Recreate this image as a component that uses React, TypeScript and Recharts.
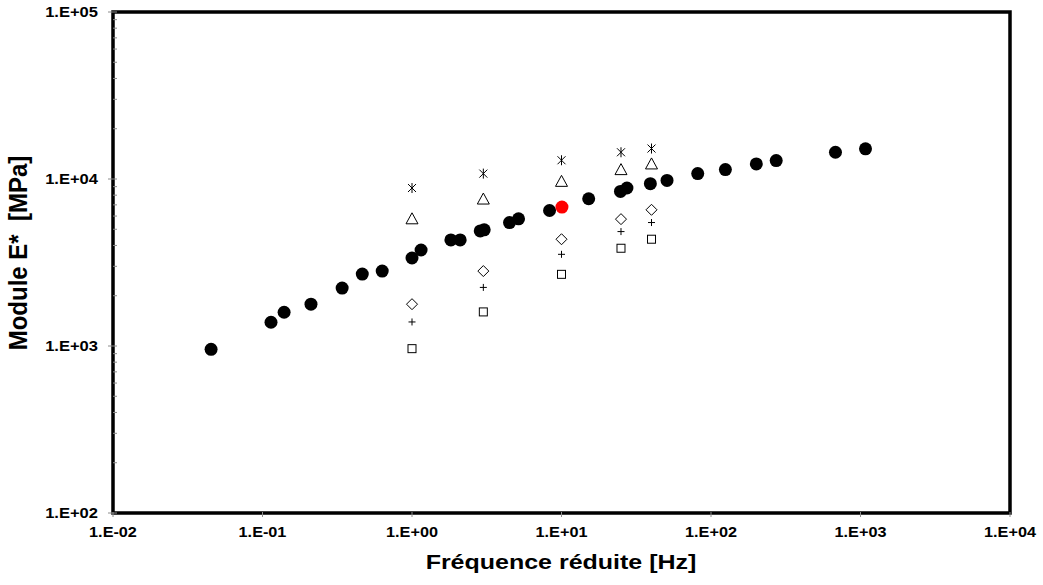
import React from 'react';
import {
  ScatterChart,
  Scatter,
  XAxis,
  YAxis,
  ReferenceArea,
} from 'recharts';

// courbe maîtresse (points noirs)
const freqMaster = [
  0.0453, 0.114, 0.1395, 0.211, 0.341, 0.465, 0.632, 1.0, 1.15, 1.82, 2.1, 2.86, 3.04, 4.49,
  5.16, 8.32, 15.2, 24.8, 27.4, 39.3, 50.8, 81.5, 124.8, 201, 273, 680, 1080,
];
const moduleMaster = [
  955, 1387, 1593, 1780, 2222, 2697, 2810, 3365, 3758, 4318, 4318, 4890, 4960, 5486, 5776,
  6476, 7616, 8430, 8830, 9370, 9810, 10770, 11380, 12310, 12890, 14460, 15150,
];

// point de référence (rouge)
const freqRef = [10.07];
const moduleRef = [6789];

// essais à fréquences fixes
const freqTest = [1, 3, 10, 25, 40];
const moduleStar = [8830, 10770, 12950, 14460, 15220];
const moduleTriangle = [5776, 7586, 9680, 11380, 12310];
const moduleDiamond = [1780, 2810, 4359, 5750, 6540];
const modulePlus = [1393, 2243, 3540, 4843, 5486];
const moduleSquare = [964, 1600, 2686, 3849, 4359];

const xTicks = [0.01, 0.1, 1, 10, 100, 1000, 10000];
const yMajor = [100, 1000, 10000, 100000];
const yTicks = [
  100, 200, 300, 400, 500, 600, 700, 800, 900,
  1000, 2000, 3000, 4000, 5000, 6000, 7000, 8000, 9000,
  10000, 20000, 30000, 40000, 50000, 60000, 70000, 80000, 90000,
  100000,
];

const FONT = 'Liberation Sans, Arial, sans-serif';
const TICK_GRAY = '#8c8c8c';

const toPoints = (xs: number[], ys: number[]) => xs.map((x, i) => ({ x, y: ys[i] }));

const sciLabel = (v: number) => {
  const e = Math.round(Math.log10(v));
  return `1.E${e < 0 ? '-' : '+'}${String(Math.abs(e)).padStart(2, '0')}`;
};

const XTick = ({ x, y, payload }: any) => (
  <g>
    <line x1={x} x2={x} y1={y - 1} y2={y + 4} stroke={TICK_GRAY} strokeWidth={1} />
    <text
      transform={`translate(${x},${y + 24}) scale(1.12,1)`}
      textAnchor="middle"
      fontFamily={FONT}
      fontWeight="bold"
      fontSize={14.5}
      fill="#000"
    >
      {sciLabel(payload.value)}
    </text>
  </g>
);

const YTick = ({ x, y, payload }: any) => {
  const major = yMajor.includes(payload.value);
  if (!major) {
    return <line x1={x} x2={x + 4} y1={y} y2={y} stroke={TICK_GRAY} strokeWidth={1} />;
  }
  return (
    <g>
      <line x1={x - 5} x2={x + 4} y1={y} y2={y} stroke={TICK_GRAY} strokeWidth={1} />
      <text
        transform={`translate(${x - 15},${y}) scale(1.14,1)`}
        textAnchor="end"
        dy="0.36em"
        fontFamily={FONT}
        fontWeight="bold"
        fontSize={14.5}
        fill="#000"
      >
        {sciLabel(payload.value)}
      </text>
    </g>
  );
};

const Dot = ({ cx, cy, fill }: any) => <circle cx={cx} cy={cy} r={6.5} fill={fill} />;

const Star = ({ cx, cy }: any) => (
  <g stroke="#000" strokeWidth={1}>
    <line x1={cx - 4} x2={cx + 4} y1={cy - 4} y2={cy + 4} />
    <line x1={cx - 4} x2={cx + 4} y1={cy + 4} y2={cy - 4} />
    <line x1={cx} x2={cx} y1={cy - 5} y2={cy + 5} />
  </g>
);

const Triangle = ({ cx, cy }: any) => (
  <path
    d={`M${cx},${cy - 6} L${cx + 6},${cy + 5} L${cx - 6},${cy + 5} Z`}
    fill="none"
    stroke="#000"
    strokeWidth={1}
  />
);

const Diamond = ({ cx, cy }: any) => (
  <path
    d={`M${cx},${cy - 5.5} L${cx + 5.5},${cy} L${cx},${cy + 5.5} L${cx - 5.5},${cy} Z`}
    fill="none"
    stroke="#000"
    strokeWidth={1}
  />
);

const Plus = ({ cx, cy }: any) => (
  <g stroke="#000" strokeWidth={1}>
    <line x1={cx - 3.5} x2={cx + 3.5} y1={cy} y2={cy} />
    <line x1={cx} x2={cx} y1={cy - 3.5} y2={cy + 3.5} />
  </g>
);

const Square = ({ cx, cy }: any) => (
  <rect x={cx - 4} y={cy - 4} width={8} height={8} fill="none" stroke="#000" strokeWidth={1} />
);

export default function App() {
  return (
    <div style={{ position: 'absolute', left: 0, top: 0, width: 1043, height: 585, background: '#fff' }}>
      <ScatterChart width={1043} height={585} margin={{ top: 12, right: 33, bottom: 0, left: 0 }}>
        <XAxis
          type="number"
          dataKey="x"
          scale="log"
          domain={[0.01, 10000]}
          ticks={xTicks}
          allowDataOverflow
          axisLine={false}
          tickLine={false}
          tickSize={0}
          tickMargin={0}
          height={72}
          tick={<XTick />}
          interval={0}
        />
        <YAxis
          type="number"
          dataKey="y"
          scale="log"
          domain={[100, 100000]}
          ticks={yTicks}
          allowDataOverflow
          axisLine={false}
          tickLine={false}
          tickSize={0}
          tickMargin={0}
          width={113}
          tick={<YTick />}
          interval={0}
        />
        <ReferenceArea
          x1={0.01}
          x2={10000}
          y1={100}
          y2={100000}
          fill="none"
          fillOpacity={0}
          stroke="#000"
          strokeWidth={3.5}
          ifOverflow="visible"
        />
        <Scatter data={toPoints(freqMaster, moduleMaster)} fill="#000" shape={<Dot />} isAnimationActive={false} />
        <Scatter data={toPoints(freqRef, moduleRef)} fill="#ff0000" shape={<Dot />} isAnimationActive={false} />
        <Scatter data={toPoints(freqTest, moduleStar)} shape={<Star />} isAnimationActive={false} />
        <Scatter data={toPoints(freqTest, moduleTriangle)} shape={<Triangle />} isAnimationActive={false} />
        <Scatter data={toPoints(freqTest, moduleDiamond)} shape={<Diamond />} isAnimationActive={false} />
        <Scatter data={toPoints(freqTest, modulePlus)} shape={<Plus />} isAnimationActive={false} />
        <Scatter data={toPoints(freqTest, moduleSquare)} shape={<Square />} isAnimationActive={false} />
        <text
          transform="translate(561,569) scale(1.19,1)"
          textAnchor="middle"
          fontFamily={FONT}
          fontWeight="bold"
          fontSize={21}
          fill="#000"
        >
          Fréquence réduite [Hz]
        </text>
        <text
          transform="translate(27,253) scale(1.05,1) rotate(-90)"
          textAnchor="middle"
          fontFamily={FONT}
          fontWeight="bold"
          fontSize={24}
          fill="#000"
          xmlSpace="preserve"
        >
          {'Module E*  [MPa]'}
        </text>
      </ScatterChart>
    </div>
  );
}
